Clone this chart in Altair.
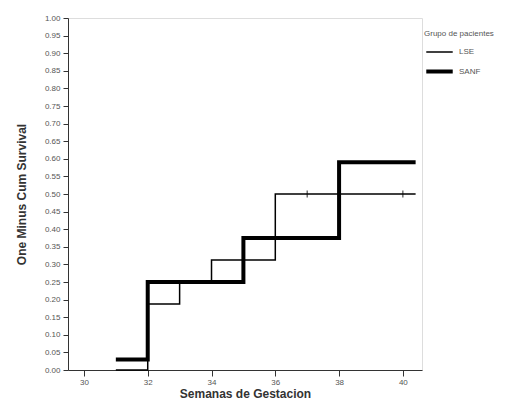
import altair as alt
import pandas as pd

# Step curves (one minus cumulative survival)
lse_weeks = [31, 32, 33, 34, 36, 40.4]
lse_vals = [0.0, 0.1875, 0.25, 0.3125, 0.5, 0.5]
sanf_weeks = [31, 32, 35, 38, 40.4]
sanf_vals = [0.03, 0.25, 0.375, 0.59, 0.59]

# censored observations (LSE)
cens_weeks = [37, 40]
cens_vals = [0.5, 0.5]

series_names = ["LSE", "SANF"]
x_ticks = [30, 32, 34, 36, 38, 40]
y_ticks = [round(i * 0.05, 2) for i in range(21)]

rows = []
for w, v in zip(lse_weeks, lse_vals):
    rows.append({"week": w, "val": v, "grupo": series_names[0]})
for w, v in zip(sanf_weeks, sanf_vals):
    rows.append({"week": w, "val": v, "grupo": series_names[1]})
df = pd.DataFrame(rows)
cens = pd.DataFrame({"week": cens_weeks, "val": cens_vals})

xscale = alt.Scale(domain=[29.5, 40.6], nice=False, zero=False)
yscale = alt.Scale(domain=[0, 1], nice=False)

xaxis = alt.Axis(values=x_ticks, title="Semanas de Gestacion", grid=False,
                 labelFontSize=8, labelColor="#555", tickColor="#333",
                 domainColor="#333", titleFontSize=12, titleFont="Liberation Sans",
                 titleFontWeight="bold", titleColor="#333", titlePadding=2,
                 tickSize=6, labelPadding=2)
yaxis = alt.Axis(values=y_ticks, format=".2f", title="One Minus Cum Survival",
                 grid=False, labelFontSize=8, labelColor="#555", tickColor="#333",
                 domainColor="#333", titleFontSize=12, titleFont="Liberation Sans",
                 titleFontWeight="bold", titleColor="#333", titlePadding=16,
                 tickSize=5, labelPadding=3, labelOverlap=False)

lines = alt.Chart(df).mark_line(interpolate="step-after", color="black").encode(
    x=alt.X("week:Q", scale=xscale, axis=xaxis),
    y=alt.Y("val:Q", scale=yscale, axis=yaxis),
    strokeWidth=alt.StrokeWidth(
        "grupo:N",
        scale=alt.Scale(domain=series_names, range=[1.5, 4]),
        legend=alt.Legend(title="Grupo de pacientes", orient="none",
                          legendX=356, legendY=12, symbolType="stroke",
                          symbolSize=700, symbolStrokeColor="black",
                          titleFontSize=8, titleFontWeight="normal",
                          titleColor="#555", labelFontSize=8,
                          labelColor="#555", rowPadding=-8, titlePadding=0),
    ),
)

ticks = alt.Chart(cens).mark_tick(color="black", thickness=1.2, size=7,
                                  orient="vertical").encode(
    x=alt.X("week:Q", scale=xscale, axis=xaxis),
    y=alt.Y("val:Q", scale=yscale, axis=yaxis),
)

chart = (lines + ticks).properties(
    width=354, height=352,
    autosize=alt.AutoSizeParams(type="none"),
    padding={"left": 60, "top": 10, "right": 99, "bottom": 35},
).configure_view(stroke="#333", strokeWidth=1).configure(background="white")

chart.save("out.html", embed_options={"renderer": "svg", "actions": False})
